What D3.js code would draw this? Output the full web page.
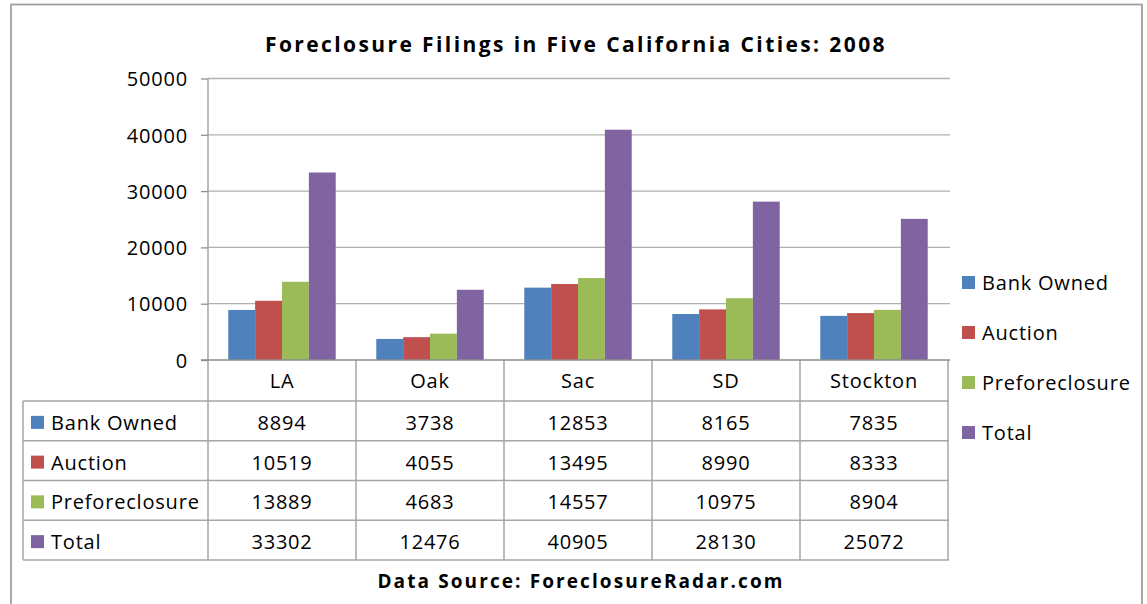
<!DOCTYPE html>
<meta charset="utf-8">
<style>
body { margin: 0; background: #fff; }
text { font-family: "Open Sans", sans-serif; fill: #000; }
.lbl { font-size: 20px; letter-spacing: 0.8px; }
.title { font-size: 21px; font-weight: bold; letter-spacing: 2.4px; }
.foot { font-size: 19px; font-weight: bold; letter-spacing: 2.1px; }
.grid line { stroke: #b0b0b0; stroke-width: 1.3; }
.tbl line { stroke: #a6a6a6; stroke-width: 1.5; }
</style>
<svg width="1147" height="604"></svg>
<script src="https://d3js.org/d3.v7.min.js"></script>
<script>
// data
var cities = ["LA", "Oak", "Sac", "SD", "Stockton"];
var seriesNames = ["Bank Owned", "Auction", "Preforeclosure", "Total"];
var bankOwned = [8894, 3738, 12853, 8165, 7835];
var auction = [10519, 4055, 13495, 8990, 8333];
var preforeclosure = [13889, 4683, 14557, 10975, 8904];
var total = [33302, 12476, 40905, 28130, 25072];
var yTicks = [0, 10000, 20000, 30000, 40000, 50000];

var colors = ["#4f81bd", "#c0504d", "#9bbb59", "#8064a2"];
var values = [bankOwned, auction, preforeclosure, total];

var svg = d3.select("svg");

// chart border
svg.append("rect")
  .attr("x", 11).attr("y", 4.5)
  .attr("width", 1131).attr("height", 640)
  .attr("fill", "#fff")
  .attr("stroke", "#a0a0a0").attr("stroke-width", 1.8);

var x = d3.scaleBand().domain(cities).range([208, 948]);
var color = d3.scaleOrdinal().domain(seriesNames).range(colors);
var x1 = d3.scaleBand().domain(seriesNames)
  .range([x.bandwidth() * 0.137, x.bandwidth() * 0.863]);
var y = d3.scaleLinear().domain([0, 50000]).range([360, 78.5]);

// gridlines
svg.append("g").attr("class", "grid")
  .selectAll("line").data(yTicks.slice(1)).enter().append("line")
  .attr("x1", 208).attr("x2", 950)
  .attr("y1", function(d) { return y(d); })
  .attr("y2", function(d) { return y(d); });

// bars
var rows = [];
cities.forEach(function(c, i) {
  seriesNames.forEach(function(s, j) {
    rows.push({city: c, series: s, value: values[j][i]});
  });
});

svg.append("g").selectAll("rect").data(rows).enter().append("rect")
  .attr("x", function(d) { return x(d.city) + x1(d.series); })
  .attr("width", x1.bandwidth())
  .attr("y", function(d) { return y(d.value); })
  .attr("height", function(d) { return y(0) - y(d.value); })
  .attr("fill", function(d) { return color(d.series); });

// y axis
var yAxis = svg.append("g")
  .attr("transform", "translate(208,0)")
  .call(d3.axisLeft(y).tickValues(yTicks).tickSize(7).tickPadding(13).tickFormat(d3.format("d")));
yAxis.select(".domain").attr("stroke", "#a6a6a6").attr("stroke-width", 1.5)
  .attr("d", "M0,78.5V360");
yAxis.selectAll(".tick line").attr("stroke", "#909090").attr("stroke-width", 1.3);
yAxis.selectAll(".tick text").attr("class", "lbl").attr("dy", "0.36em")
  .style("font-family", "'Open Sans', sans-serif").style("font-size", "20px").attr("fill", "#000");

// data table
var row = d3.scaleBand().domain(seriesNames).range([401, 560]);
var tbl = svg.append("g").attr("class", "tbl");

// horizontal lines
tbl.selectAll(".h").data(seriesNames).enter().append("line")
  .attr("x1", 23).attr("x2", 949)
  .attr("y1", function(d) { return row(d); })
  .attr("y2", function(d) { return row(d); });
tbl.append("line").attr("x1", 23).attr("x2", 949).attr("y1", 560).attr("y2", 560);
// vertical lines
tbl.selectAll(".v").data(cities).enter().append("line")
  .attr("x1", function(d) { return x(d) + x.bandwidth(); })
  .attr("x2", function(d) { return x(d) + x.bandwidth(); })
  .attr("y1", 360).attr("y2", 560);
tbl.append("line").attr("x1", 208).attr("x2", 208).attr("y1", 360).attr("y2", 560);
tbl.append("line").attr("x1", 23).attr("x2", 23).attr("y1", 401).attr("y2", 560);

// zero line over bars
svg.append("line").attr("x1", 201).attr("x2", 950)
  .attr("y1", y(0)).attr("y2", y(0))
  .attr("stroke", "#8c8c8c").attr("stroke-width", 1.5);

// category labels
svg.append("g").selectAll("text").data(cities).enter().append("text")
  .attr("class", "lbl")
  .attr("x", function(d) { return x(d) + x.bandwidth() / 2; })
  .attr("y", 388)
  .attr("text-anchor", "middle")
  .text(function(d) { return d; });

// row legend keys + names
var rk = svg.append("g").selectAll("g").data(seriesNames).enter().append("g")
  .attr("transform", function(d) { return "translate(0," + (row(d) + row.bandwidth() / 2) + ")"; });
rk.append("rect").attr("x", 31).attr("y", -5).attr("width", 13).attr("height", 13)
  .attr("fill", function(d) { return color(d); });
rk.append("text").attr("class", "lbl").attr("x", 51).attr("y", 9)
  .text(function(d) { return d; });

// cell values
svg.append("g").selectAll("text").data(rows).enter().append("text")
  .attr("class", "lbl")
  .attr("x", function(d) { return x(d.city) + x.bandwidth() / 2; })
  .attr("y", function(d) { return row(d.series) + row.bandwidth() / 2 + 9; })
  .attr("text-anchor", "middle")
  .text(function(d) { return d.value; });

// legend
var leg = d3.scaleBand().domain(seriesNames).range([258, 458]);
var lg = svg.append("g").selectAll("g").data(seriesNames).enter().append("g")
  .attr("transform", function(d) { return "translate(962," + (leg(d) + leg.bandwidth() / 2) + ")"; });
lg.append("rect").attr("x", 0).attr("y", -7).attr("width", 13).attr("height", 13)
  .attr("fill", function(d) { return color(d); });
lg.append("text").attr("class", "lbl").attr("x", 20).attr("y", 7)
  .text(function(d) { return d; });

// title and source
svg.append("text").attr("class", "title")
  .attr("x", 576).attr("y", 52).attr("text-anchor", "middle")
  .text("Foreclosure Filings in Five California Cities: 2008");
svg.append("text").attr("class", "foot")
  .attr("x", 581).attr("y", 588).attr("text-anchor", "middle")
  .text("Data Source: ForeclosureRadar.com");
</script>
